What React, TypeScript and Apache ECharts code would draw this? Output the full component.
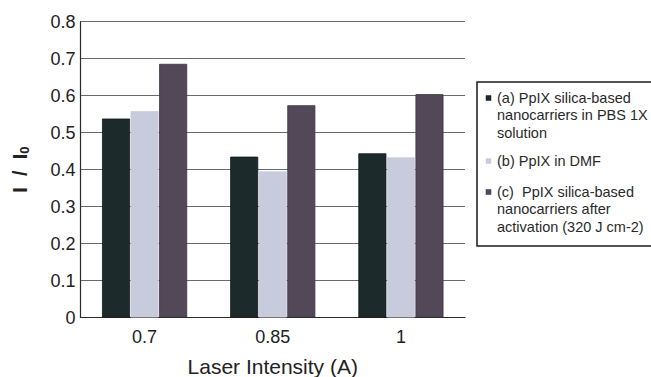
import React, { useEffect, useRef } from "react";
import * as echarts from "echarts";

const categories = ["0.7", "0.85", "1"];
const seriesNames = [
  "(a) PpIX silica-based\nnanocarriers in PBS 1X\nsolution",
  "(b) PpIX in DMF",
  "(c)  PpIX silica-based\nnanocarriers after\nactivation (320 J cm-2)",
];
const valuesA = [0.538, 0.435, 0.444];
const valuesB = [0.558, 0.395, 0.433];
const valuesC = [0.686, 0.574, 0.604];
const colors = ["#1c2a2b", "#c8cbdc", "#524858"];
const borderColors = ["#111a1a", "#c8cbdc", "#3e3444"];
const yTicks = { min: 0, max: 0.8, interval: 0.1 };

export default function App() {
  const ref = useRef<HTMLDivElement>(null);
  useEffect(() => {
    if (!ref.current) return;
    const chart = echarts.init(ref.current, null, { renderer: "svg" });
    const font = "'Liberation Sans', Arial, sans-serif";
    const allValues = [valuesA, valuesB, valuesC];
    const legendTops = [89, 152, 183];
    const legendGraphics: any[] = [
      {
        type: "rect",
        shape: { x: 477, y: 82, width: 220, height: 164 },
        style: { fill: "none", stroke: "#1a1a1a", lineWidth: 1.5 },
      },
    ];
    seriesNames.forEach((name, i) => {
      legendGraphics.push({
        type: "rect",
        shape: { x: 486, y: legendTops[i] + 6.5, width: 5, height: 5 },
        style: { fill: colors[i], stroke: borderColors[i], lineWidth: 0.5 },
      });
      legendGraphics.push({
        type: "text",
        x: 497,
        y: legendTops[i],
        style: {
          text: name,
          fontSize: 14.5,
          lineHeight: 17.5,
          fontFamily: font,
          fill: "#2a2a2a",
          textVerticalAlign: "top",
        },
      });
    });
    chart.setOption({
      animation: false,
      backgroundColor: "#ffffff",
      grid: { left: 80.5, right: 186, top: 21.7, bottom: 59.5, outerBoundsMode: "none", containLabel: false },
      xAxis: {
        type: "category",
        data: categories,
        axisTick: { show: false },
        axisLine: { lineStyle: { color: "#2a2a2a", width: 1.2 } },
        axisLabel: { fontSize: 18, color: "#222", fontFamily: font, margin: 10 },
        name: "Laser Intensity (A)",
        nameLocation: "middle",
        nameGap: 38,
        nameTextStyle: { fontSize: 21, color: "#222", fontFamily: font },
      },
      yAxis: {
        type: "value",
        min: yTicks.min,
        max: yTicks.max,
        interval: yTicks.interval,
        axisLine: { show: true, lineStyle: { color: "#2a2a2a", width: 1.2 } },
        axisTick: { show: false },
        splitLine: { lineStyle: { color: "#6a6a6a", width: 1 } },
        axisLabel: {
          fontSize: 18,
          color: "#222",
          fontFamily: font,
          margin: 5,
          formatter: (v: number) => (v === 0 ? "0" : v.toFixed(1)),
        },
        name: "{m|I  /  I}{s|0}",
        nameLocation: "middle",
        nameRotate: 90,
        nameGap: 50,
        nameTextStyle: {
          rich: {
            m: { fontSize: 20, fontWeight: "bold", color: "#222", fontFamily: font },
            s: { fontSize: 13, fontWeight: "bold", color: "#222", fontFamily: font, padding: [8, 0, 0, 0] },
          },
        },
      },
      series: allValues.map((vals, i) => ({
        type: "bar",
        name: seriesNames[i],
        data: vals,
        barWidth: 28,
        barGap: "2%",
        itemStyle: { color: colors[i], borderColor: borderColors[i], borderWidth: 0.8 },
      })),
      graphic: legendGraphics,
    });
    return () => chart.dispose();
  }, []);
  return (
    <div
      ref={ref}
      style={{ position: "absolute", left: 0, top: 0, width: 651, height: 377, overflow: "hidden" }}
    />
  );
}
